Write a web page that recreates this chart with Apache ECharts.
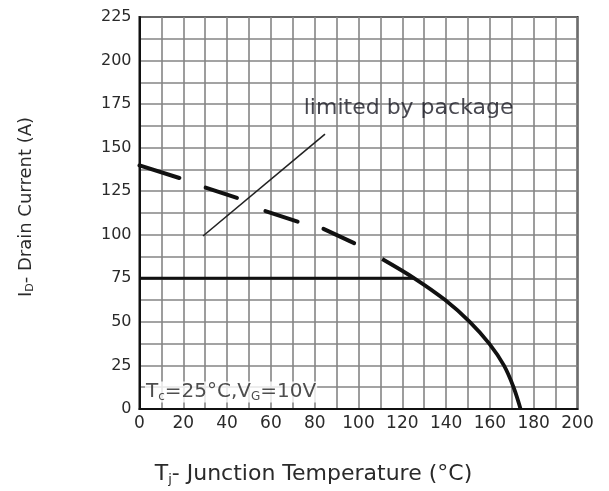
<!DOCTYPE html>
<html>
<head>
<meta charset="utf-8">
<script src="https://cdn.jsdelivr.net/npm/echarts@6/dist/echarts.min.js"></script>
<style>html,body{margin:0;padding:0;background:#fff;}#c{width:609px;height:491px;}</style>
</head>
<body>
<div id="c"></div>
<script>
// ---- data ----
var xTicks = [0, 20, 40, 60, 80, 100, 120, 140, 160, 180, 200];
var yTicks = [0, 25, 50, 75, 100, 125, 150, 175, 200, 225];
// package limit (horizontal)
var limitT = [0, 125.5];
var limitI = [75, 75];
// dashed part of the curve (each dash: start, end)
var dashT = [[0, 18.2], [30.2, 44.5], [57.5, 72.2], [84, 98]];
var dashI = [[139.8, 132.6], [127.1, 121.2], [113.6, 107.5], [103.4, 95.2]];
// solid part of the curve
var curveT = [110.8, 125.5, 139.6, 150.8, 159.7, 166.4, 170.8, 174];
var curveI = [86.1, 75, 62.5, 50, 37.5, 25, 12.5, 0];
// pointer line for "limited by package"
var pointerT = [29, 84.7];
var pointerI = [99.3, 157.8];
// annotations [T, I]
var noteLimit = [75, 172.5];
var noteCond = [2.5, 9.7];

function pairs(xs, ys) { return xs.map(function (x, i) { return [x, ys[i]]; }); }

var black = '#111';
var series = [];
series.push({ type: 'line', data: pairs(limitT, limitI), symbol: 'none', lineStyle: { color: black, width: 3 }, z: 5 });
dashT.forEach(function (t, i) {
  series.push({ type: 'line', data: pairs(t, dashI[i]), symbol: 'none', lineStyle: { color: black, width: 4, cap: 'round' }, z: 5 });
});
series.push({ type: 'line', data: pairs(curveT, curveI), smooth: 0.35, symbol: 'none', lineStyle: { color: black, width: 3.8 }, z: 5 });
series.push({ type: 'line', data: pairs(pointerT, pointerI), symbol: 'none', lineStyle: { color: '#222', width: 1.6 }, z: 5 });
series.push({
  type: 'scatter', symbolSize: 0, z: 6,
  data: [noteLimit],
  label: { show: true, position: 'right', distance: 0, formatter: 'limited by package',
    fontFamily: 'DejaVu Sans', fontSize: 22, color: '#1a1a24' }
});
series.push({
  type: 'scatter', symbolSize: 0, z: 6,
  data: [noteCond],
  label: { show: true, position: 'right', distance: 0,
    formatter: 'T{sub|c}=25°C,V{sub|G}=10V',
    fontFamily: 'DejaVu Sans', fontSize: 20, color: '#222',
    backgroundColor: '#fff', padding: [0, 1, 0, 1],
    rich: { sub: { fontFamily: 'DejaVu Sans', fontSize: 12, color: '#222', verticalAlign: 'bottom', padding: [9, 0, 0, 0] } } }
});

var chart = echarts.init(document.getElementById('c'), null, { renderer: 'canvas' });
chart.setOption({
  animation: false,
  backgroundColor: '#fff',
  grid: { left: 139.5, right: 31.5, top: 17, bottom: 79, show: true, borderColor: '#111', borderWidth: 2, backgroundColor: 'transparent' },
  xAxis: {
    type: 'value', min: 0, max: 200, interval: 10,
    axisLine: { show: true, lineStyle: { color: '#111', width: 2 } },
    axisTick: { show: false },
    splitLine: { show: true, lineStyle: { color: '#858585', width: 1.6 } },
    axisLabel: { margin: 6, fontFamily: 'DejaVu Sans', fontSize: 17, color: '#2a2a2a',
      formatter: function (v) { return xTicks.indexOf(v) >= 0 ? String(v) : ''; } },
    name: 'T{sub|j}- Junction Temperature (°C)',
    nameLocation: 'middle', nameGap: 54,
    nameTextStyle: { fontFamily: 'DejaVu Sans', fontSize: 22, color: '#2a2a2a', padding: [0, 90, 0, 0],
      rich: { sub: { fontFamily: 'DejaVu Sans', fontSize: 13, color: '#2a2a2a', verticalAlign: 'bottom', padding: [10, 0, 0, 0] } } }
  },
  yAxis: {
    type: 'value', min: 0, max: 225, interval: 12.5,
    axisLine: { show: true, lineStyle: { color: '#111', width: 2 } },
    axisTick: { show: false },
    splitLine: { show: true, lineStyle: { color: '#858585', width: 1.6 } },
    axisLabel: { margin: 8, fontFamily: 'DejaVu Sans', fontSize: 16, color: '#2a2a2a',
      formatter: function (v) { return yTicks.indexOf(v) >= 0 ? String(v) : ''; } },
    name: 'I{sub|D}- Drain Current (A)',
    nameLocation: 'middle', nameGap: 104, nameRotate: 90,
    nameTextStyle: { fontFamily: 'DejaVu Sans', fontSize: 18, color: '#2a2a2a', padding: [0, 0, 0, 12],
      rich: { sub: { fontFamily: 'DejaVu Sans', fontSize: 11, color: '#2a2a2a', verticalAlign: 'bottom', padding: [8, 0, 0, 0] } } }
  },
  series: series
});
</script>
</body>
</html>
